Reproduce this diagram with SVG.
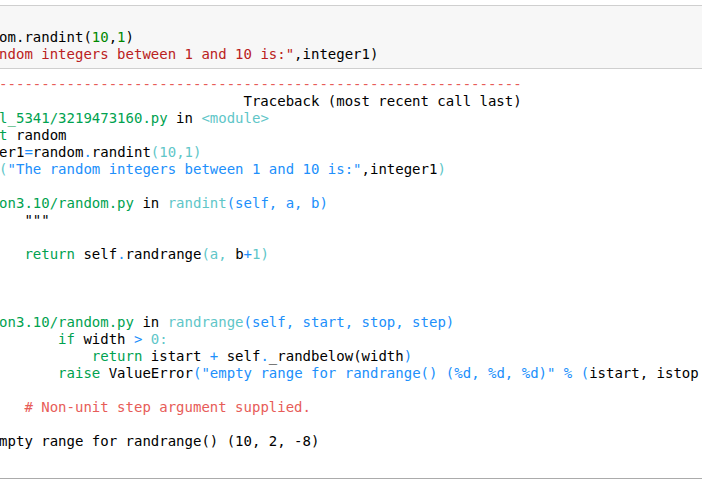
<svg xmlns="http://www.w3.org/2000/svg" width="702" height="481" viewBox="0 0 702 481">
<style>
text{font-family:"DejaVu Sans Mono","Liberation Mono",monospace;font-size:14px;fill:#000}
.g{fill:#00a250}.c{fill:#60c6c8}.b{fill:#208ffb}.r{fill:#e75c58}
.n{fill:#008800}.s{fill:#ba2121}
</style>
<rect width="702" height="481" fill="#ffffff"/>
<g id="input-cell">
<rect x="0" y="5" width="702" height="63" fill="#f7f7f7"/>
<line x1="0" y1="5.5" x2="702" y2="5.5" stroke="#cfcfcf"/>
<line x1="0" y1="68.5" x2="702" y2="68.5" stroke="#cfcfcf"/>
<text x="-0.9" y="41.5" xml:space="preserve">om.randint(<tspan class="n">10</tspan>,<tspan class="n">1</tspan>)</text>
<text x="-0.9" y="58.5" xml:space="preserve"><tspan class="s">ndom integers between 1 and 10 is:"</tspan>,integer1)</text>
</g>
<g id="output">
<text x="-0.9" y="89" class="r" xml:space="preserve">--------------------------------------------------------------</text>
<text x="243.5" y="106" xml:space="preserve">Traceback (most recent call last)</text>
<text x="-0.9" y="123" xml:space="preserve"><tspan class="g">l_5341/3219473160.py</tspan> in <tspan class="c">&lt;module&gt;</tspan></text>
<text x="-0.9" y="140" xml:space="preserve"><tspan class="g">t</tspan> random</text>
<text x="-0.9" y="157" xml:space="preserve">er1<tspan class="b">=</tspan>random<tspan class="b">.</tspan>randint<tspan class="c">(10,1)</tspan></text>
<text x="-0.9" y="174" xml:space="preserve"><tspan class="c">(</tspan><tspan class="b">"The random integers between 1 and 10 is:"</tspan>,integer1<tspan class="c">)</tspan></text>
<text x="-0.9" y="208" xml:space="preserve"><tspan class="g">on3.10/random.py</tspan> in <tspan class="c">randint</tspan><tspan class="b">(self, a, b)</tspan></text>
<text x="-0.9" y="225" xml:space="preserve">   """</text>
<text x="-0.9" y="259" xml:space="preserve">   <tspan class="g">return</tspan> self<tspan class="b">.</tspan>randrange<tspan class="c">(a,</tspan> b<tspan class="b">+</tspan><tspan class="c">1)</tspan></text>
<text x="-0.9" y="327" xml:space="preserve"><tspan class="g">on3.10/random.py</tspan> in <tspan class="c">randrange</tspan><tspan class="b">(self, start, stop, step)</tspan></text>
<text x="-0.9" y="344" xml:space="preserve">       <tspan class="g">if</tspan> width <tspan class="b">&gt;</tspan> <tspan class="c">0:</tspan></text>
<text x="-0.9" y="361" xml:space="preserve">           <tspan class="g">return</tspan> istart <tspan class="b">+</tspan> self<tspan class="b">.</tspan>_randbelow(width<tspan class="b">)</tspan></text>
<text x="-0.9" y="378" xml:space="preserve">       <tspan class="g">raise</tspan> ValueError<tspan class="b">("empty range for randrange() (%d, %d, %d)" % (</tspan>istart, istop</text>
<text x="-0.9" y="412" class="r" xml:space="preserve">   # Non-unit step argument supplied.</text>
<text x="-0.9" y="446" xml:space="preserve">mpty range for randrange() (10, 2, -8)</text>
</g>
<line x1="0" y1="478.5" x2="702" y2="478.5" stroke="#ababab"/>
</svg>
